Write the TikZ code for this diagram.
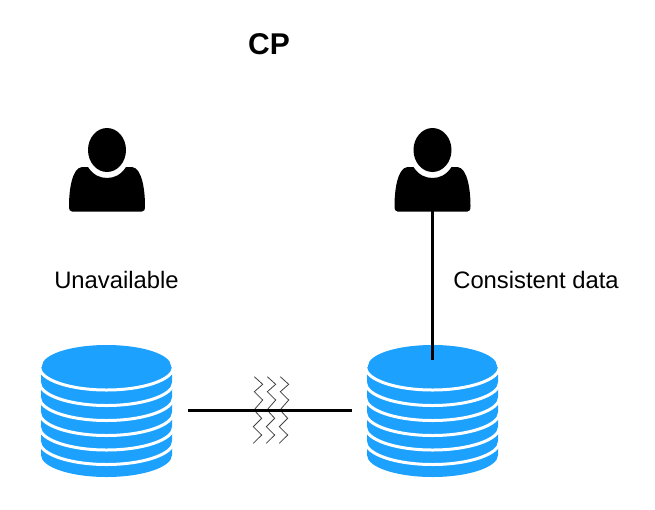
\documentclass[tikz,border=0pt]{standalone}
\usepackage{fontspec}
\setmainfont{Liberation Sans}
\definecolor{DiskClr}{rgb}{0.11,0.63,1}
\definecolor{ZigClr}{rgb}{0.25,0.25,0.25}

\tikzset{
  link/.style={line width=2.6pt,color=black},
  zig/.style={line width=0.8pt,color=ZigClr},
  label/.style={inner sep=0pt,font=\fontsize{23.8}{28}\selectfont}
}

% #1 = middle x of the icon
\newcommand{\DrawUser}[1]{
\begin{scope}[shift={(#1,0)}]
\fill (0,150) ellipse [x radius=19,y radius=22];
\fill (-38,206) .. controls (-38,190) and (-35,168) .. (-25,167)
  .. controls (-23,167) and (-21,167) .. (-19,167)
  .. controls (-14,175) and (-7,178) .. (0,178)
  .. controls (7,178) and (14,175) .. (19,167)
  .. controls (21,167) and (23,167) .. (25,167)
  .. controls (35,168) and (38,190) .. (38,206)
  .. controls (38,210) and (37,211.5) .. (35,211.5)
  -- (-35,211.5) .. controls (-37,211.5) and (-38,210) .. (-38,206) -- cycle;
\end{scope}
}

% #1 = middle x of the stack
\newcommand{\DrawDisks}[1]{
\begin{scope}[shift={(#1,0)}]
\fill[DiskClr] (-65.5,367) -- (-65.5,455) arc [start angle=180,end angle=0,x radius=65.5,y radius=22] -- (65.5,367) -- cycle;
\foreach \diskY in {367,382.5,397.5,412.5,427,441.5}
  \draw[white,line width=3pt] (-67,\diskY) arc [start angle=180,end angle=0,x radius=67,y radius=23];
\fill[DiskClr] (0,366) ellipse [x radius=64.5,y radius=21];
\end{scope}
}

\begin{document}
\begin{tikzpicture}[x=1pt,y=-1pt]
\useasboundingbox (0,0) rectangle (655,509);

\DrawUser{107}
\DrawUser{432.5}
\DrawDisks{106.5}
\DrawDisks{432.5}

\coordinate (UserR) at (432.5,211);
\coordinate (DiskR) at (432.5,360);
\coordinate (LinkA) at (188,410.5);
\coordinate (LinkB) at (352,410.5);

\node[label,font=\fontsize{30}{36}\selectfont\bfseries] (Title) at (269,44) {CP};
\node[label] (Lost) at (116.5,280) {Unavailable};
\node[label] (Good) at (536,280) {Consistent data};

\draw[link] (UserR) -- (DiskR);

\foreach \zigX in {0,13,26}
  \draw[zig,shift={(\zigX,0)}] (254.3,376.7) -- (262.7,384.3) -- (254.3,391.7) -- (262.7,400) -- (254,410)
    -- (261.7,418.3) -- (253.3,426.7) -- (261.7,435) -- (253.3,443.3);

\draw[link] (LinkA) -- (LinkB);

\end{tikzpicture}
\end{document}
